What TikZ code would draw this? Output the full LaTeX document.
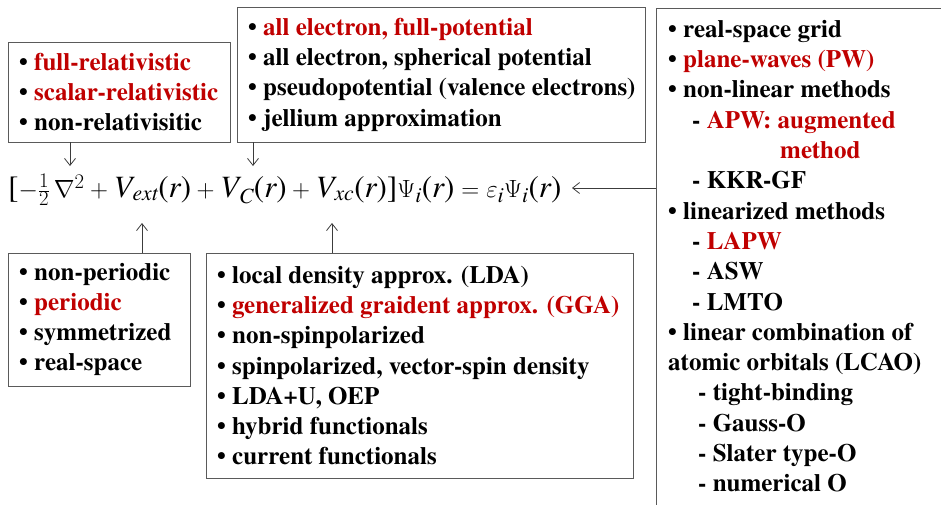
\documentclass[tikz,border=0pt]{standalone}
\usepackage[no-math]{fontspec}
\setmainfont{texgyretermes}[Extension=.otf, UprightFont=*-regular,
  BoldFont=*-bold, ItalicFont=*-italic, BoldItalicFont=*-bolditalic]
\newfontfamily\eqfont{texgyretermes}[Extension=.otf, UprightFont=*-regular,
  ItalicFont=*-italic]
\usepackage{xcolor}
\usepackage{amsmath}
\usepackage{tikz}
\usetikzlibrary{arrows.meta, positioning, calc}
\definecolor{dftred}{RGB}{192,0,0}
\definecolor{boxgray}{RGB}{90,90,90}
\definecolor{arrgray}{RGB}{60,60,60}
\newcommand{\itm}[1]{\textbullet\ #1}
\newcommand{\hl}[1]{\textcolor{dftred}{#1}}
\newcommand{\tv}[1]{\text{\eqfont\itshape #1}}
\newcommand{\tu}[1]{\text{\eqfont #1}}
\tikzset{
  frame/.style={rectangle, draw=boxgray, line width=1pt, fill=white,
    anchor=north west, inner sep=0pt, outer sep=0pt},
  items/.style={anchor=west, align=left, inner sep=0pt,
    font=\fontsize{25}{30.3}\selectfont\bfseries},
  eqn/.style={anchor=west, inner sep=0pt, font=\fontsize{31}{36}\selectfont},
  arrow/.style={-{Straight Barb[length=7pt, width=11pt]}, line width=0.8pt, color=arrgray}
}
\begin{document}
\begin{tikzpicture}[x=1pt, y=-1pt]
  \useasboundingbox (0,0) rectangle (941,504);
  \clip (0,0) rectangle (941,504);

  % Boxes
  \node[frame, minimum width=222pt, minimum height=100pt] (relbox) at (8,42) {};
  \node[frame, minimum width=408pt, minimum height=135pt] (potbox) at (237,7) {};
  \node[frame, minimum width=300pt, minimum height=505pt] (basbox) at (656,8) {};
  \node[frame, minimum width=182pt, minimum height=133pt] (perbox) at (8,253) {};
  \node[frame, minimum width=427pt, minimum height=225pt] (xcbox) at (206,253) {};

  % Lists
  \node[items] (reltext) at ([xshift=11pt]relbox.west) {%
    \itm{\hl{full-relativistic}}\\
    \itm{\hl{scalar-relativistic}}\\
    \itm{non-relativisitic}};
  \node[items] (pottext) at ([xshift=11pt]potbox.west) {%
    \itm{\hl{all electron, full-potential}}\\
    \itm{all electron, spherical potential}\\
    \itm{pseudopotential (valence electrons)}\\
    \itm{jellium approximation}};
  \node[items, anchor=north west] (bastext) at ([shift={(12pt,-12pt)}]basbox.north west) {%
    \itm{real-space grid}\\
    \itm{\hl{plane-waves (PW)}}\\
    \itm{non-linear methods}\\
    \hspace*{24pt}- \hl{APW: augmented}\\
    \hspace*{112pt}\hl{method}\\
    \hspace*{24pt}- KKR-GF\\
    \itm{linearized methods}\\
    \hspace*{24pt}- \hl{LAPW}\\
    \hspace*{24pt}- ASW\\
    \hspace*{24pt}- LMTO\\
    \itm{linear combination of}\\
    atomic orbitals (LCAO)\\
    \hspace*{30pt}- tight-binding\\
    \hspace*{30pt}- Gauss-O\\
    \hspace*{30pt}- Slater type-O\\
    \hspace*{30pt}- numerical O};
  \node[items] (pertext) at ([xshift=11pt]perbox.west) {%
    \itm{non-periodic}\\
    \itm{\hl{periodic}}\\
    \itm{symmetrized}\\
    \itm{real-space}};
  \node[items] (xctext) at ([xshift=11pt]xcbox.west) {%
    \itm{local density approx. (LDA)}\\
    \itm{\hl{generalized graident approx. (GGA)}}\\
    \itm{non-spinpolarized}\\
    \itm{spinpolarized, vector-spin density}\\
    \itm{LDA+U, OEP}\\
    \itm{hybrid functionals}\\
    \itm{current functionals}};

  % Kohn-Sham equation
  \node[eqn] (eq) at (8,190) {$\tu{[}{-}\tfrac{1}{2}\,\nabla^{2} + \tv{V}_{\tv{ext}}\tu{(}\tv{r}\tu{)}
    + \tv{V}_{\tv{C}}\tu{(}\tv{r}\tu{)} + \tv{V}_{\tv{xc}}\tu{(}\tv{r}\tu{)}\tu{]}\Psi_{\tv{i}}\tu{(}\tv{r}\tu{)}
    = \varepsilon_{\tv{i}}\Psi_{\tv{i}}\tu{(}\tv{r}\tu{)}$};

  % Arrow tips on the equation
  \coordinate (relin) at (70,166);
  \coordinate (potin) at (253,166);
  \coordinate (perin) at (142,223);
  \coordinate (xcin) at (332,223);
  \coordinate (basin) at (572,188);

  % Arrows
  \draw[arrow] (relin |- relbox.south) -- (relin);
  \draw[arrow] (potin |- potbox.south) -- (potin);
  \draw[arrow] (perin |- perbox.north) -- (perin);
  \draw[arrow] (xcin |- xcbox.north) -- (xcin);
  \draw[arrow] (basin -| basbox.west) -- (basin);
\end{tikzpicture}
\end{document}
